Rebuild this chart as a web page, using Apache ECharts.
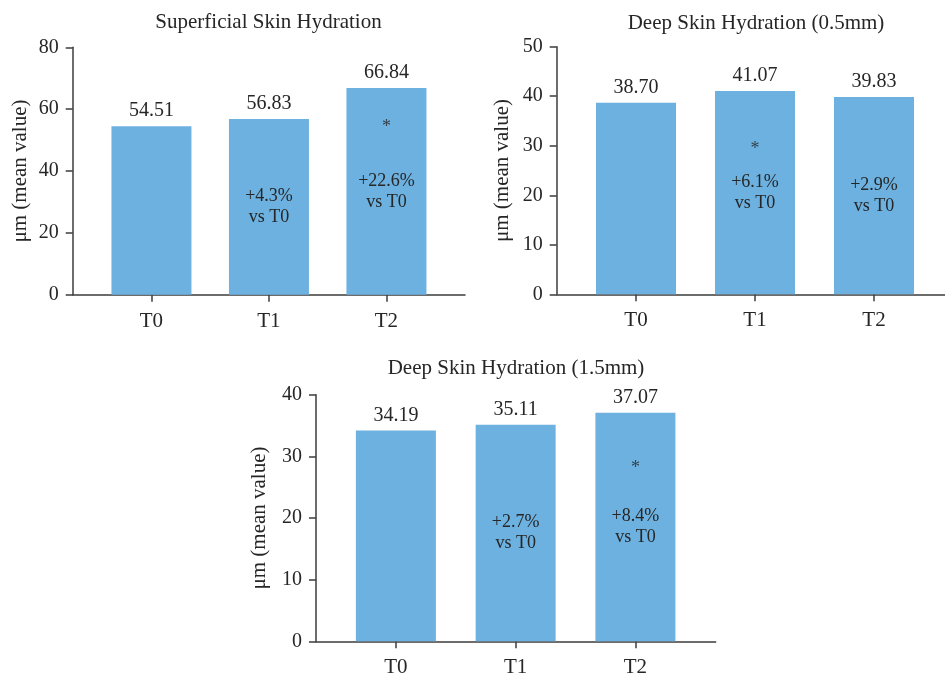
<!DOCTYPE html>
<html>
<head>
<meta charset="utf-8">
<script src="https://cdn.jsdelivr.net/npm/echarts@6/dist/echarts.min.js"></script>
<style>
html,body{margin:0;padding:0;background:#fff;}
#chart{width:945px;height:679px;}
</style>
</head>
<body>
<div id="chart"></div>
<script>
// ---- data ----
const categories = ['T0', 'T1', 'T2'];
const titles = ['Superficial Skin Hydration', 'Deep Skin Hydration (0.5mm)', 'Deep Skin Hydration (1.5mm)'];
const yAxisName = 'μm (mean value)';
const superficialValues = [54.51, 56.83, 66.84];
const deep05Values = [38.70, 41.07, 39.83];
const deep15Values = [34.19, 35.11, 37.07];
const superficialChange = ['', '+4.3%\nvs T0', '+22.6%\nvs T0'];
const deep05Change = ['', '+6.1%\nvs T0', '+2.9%\nvs T0'];
const deep15Change = ['', '+2.7%\nvs T0', '+8.4%\nvs T0'];
const superficialStar = ['-', '-', 54];
const deep05Star = ['-', 29.2, '-'];
const deep15Star = ['-', '-', 28.1];
const yMax = [80, 50, 40];
const yInterval = [20, 10, 10];

// ---- style / layout ----
const FONT = '"Liberation Serif", "DejaVu Serif", serif';
const TXT = '#262626';
const AX = '#3c3c3c';
const BAR = '#6cb1e0';

const panels = [
  {frame: {left: 72.7, top: 47.3, width: 392.3, height: 247.4}, bars: {left: 92.7, width: 352.5}, title: [263.5, 7], nameGap: 42},
  {frame: {left: 556.7, top: 46.7, width: 396.3, height: 247.6}, bars: {left: 576.5, width: 357}, title: [751, 8], nameGap: 44},
  {frame: {left: 316, top: 394.7, width: 399.7, height: 246.6}, bars: {left: 336, width: 359.3}, title: [511, 353], nameGap: 46}
];
const valueSets = [superficialValues, deep05Values, deep15Values];
const changeSets = [superficialChange, deep05Change, deep15Change];
const starSets = [superficialStar, deep05Star, deep15Star];

const grid = [], xAxis = [], yAxis = [], series = [], title = [];
panels.forEach((p, i) => {
  const fi = i * 2, bi = i * 2 + 1;
  grid.push({left: p.frame.left, top: p.frame.top, width: p.frame.width, height: p.frame.height, containLabel: false});
  grid.push({left: p.bars.left, top: p.frame.top, width: p.bars.width, height: p.frame.height, containLabel: false});
  title.push({text: titles[i], left: p.title[0], top: p.title[1], textAlign: 'center',
    textStyle: {fontFamily: FONT, fontSize: 21, fontWeight: 'normal', color: TXT}});
  // frame axes
  xAxis.push({gridIndex: fi, type: 'value', min: 0, max: 1, axisLine: {show: true, onZero: false, lineStyle: {color: AX, width: 1.5}},
    axisTick: {show: false}, axisLabel: {show: false}, splitLine: {show: false}});
  yAxis.push({gridIndex: fi, type: 'value', min: 0, max: yMax[i], interval: yInterval[i],
    name: yAxisName, nameLocation: 'middle', nameGap: p.nameGap, nameRotate: 90,
    nameTextStyle: {fontFamily: FONT, fontSize: 21, color: TXT},
    axisLine: {show: true, lineStyle: {color: AX, width: 1.5}},
    axisTick: {show: true, length: 7, lineStyle: {color: AX, width: 1.5}},
    axisLabel: {fontFamily: FONT, fontSize: 20, color: TXT, margin: 14},
    splitLine: {show: false}});
  // bar axes
  xAxis.push({gridIndex: bi, type: 'category', data: categories,
    axisLine: {show: false}, axisTick: {show: true, alignWithLabel: true, length: 7, lineStyle: {color: AX, width: 1.5}},
    axisLabel: {fontFamily: FONT, fontSize: 21, color: TXT, margin: 16}});
  yAxis.push({gridIndex: bi, type: 'value', min: 0, max: yMax[i], interval: yInterval[i], show: false});
  series.push({type: 'bar', xAxisIndex: bi, yAxisIndex: bi, data: valueSets[i], barWidth: 80,
    itemStyle: {color: BAR}, silent: true,
    label: {show: true, position: 'top', distance: 5, fontFamily: FONT, fontSize: 20, color: TXT,
      formatter: d => d.value.toFixed(2)}});
  series.push({type: 'bar', xAxisIndex: bi, yAxisIndex: bi, data: valueSets[i], barWidth: 80, barGap: '-100%',
    itemStyle: {color: 'rgba(0,0,0,0)'}, silent: true,
    label: {show: true, position: 'inside', fontFamily: FONT, fontSize: 18, lineHeight: 21, color: TXT,
      formatter: d => changeSets[i][d.dataIndex]}});
  series.push({type: 'scatter', xAxisIndex: bi, yAxisIndex: bi, data: starSets[i], symbolSize: 1,
    itemStyle: {color: 'rgba(0,0,0,0)'}, silent: true,
    label: {show: true, position: 'inside', fontFamily: FONT, fontSize: 18, color: TXT, formatter: '*'}});
});

const chart = echarts.init(document.getElementById('chart'), null, {renderer: 'canvas'});
chart.setOption({animation: false, backgroundColor: '#ffffff', title, grid, xAxis, yAxis, series});
</script>
</body>
</html>
